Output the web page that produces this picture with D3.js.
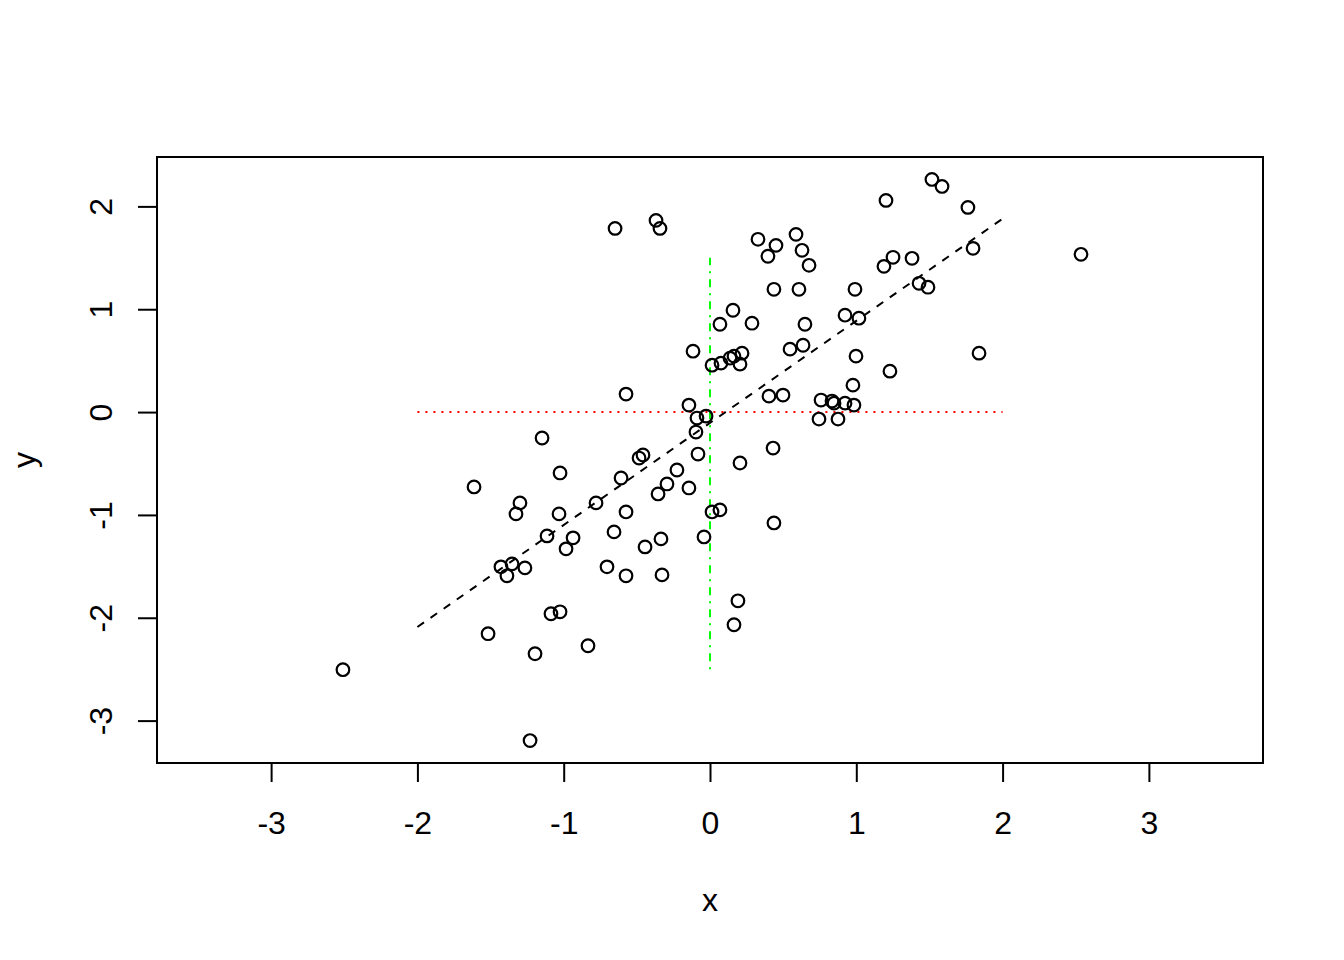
<!DOCTYPE html>
<html>
<head>
<meta charset="utf-8">
<script src="https://cdn.jsdelivr.net/npm/d3@7"></script>
<style>
  body { margin: 0; background: #fff; }
  text { font-family: "Liberation Sans", Arial, sans-serif; fill: #000; }
</style>
</head>
<body>
<svg id="chart" width="1344" height="960"></svg>
<script>

////////////////////////// DATA //////////////////////////

const xVals = [
  1.517, 1.586, 1.203, 1.763, -0.369, -0.649, -0.342, 0.588, 0.328, 0.451,
  0.629, 2.536, 1.798, 0.396, 1.251, 1.381, 0.677, 1.189, 1.429, 1.490,
  0.437, 0.608, 0.991, 0.157, 0.923, 1.018, 0.287, 0.068, 0.649, 0.636,
  0.547, -0.116, 0.219, 1.839, 0.998, 0.164, 0.137, 0.075, 0.205, 0.014,
  1.230, 0.977, -0.574, 0.499, 0.403, 0.759, 0.834, 0.848, 0.923, -0.144,
  0.984, -0.027, -0.089, 0.745, 0.875, -0.096, -1.148, 0.431, -0.082, -0.458,
  -0.485, 0.205, -0.226, -1.025, -0.608, -0.294, -1.613, -0.144, -0.355, -0.779,
  -1.299, 0.068, 0.014, -0.574, -1.032, -1.326, 0.437, -0.656, -1.114, -0.041,
  -0.936, -0.335, -0.444, -0.984, -1.353, -0.704, -1.429, -1.265, -0.328, -0.574,
  -1.388, 0.191, -1.025, -1.087, 0.164, -1.517, -0.834, -1.196, -2.509, -1.230
]

const yVals = [
  2.262, 2.194, 2.058, 1.990, 1.864, 1.786, 1.786, 1.728, 1.680, 1.621,
  1.573, 1.534, 1.592, 1.515, 1.505, 1.495, 1.427, 1.417, 1.252, 1.214,
  1.194, 1.194, 1.194, 0.990, 0.942, 0.913, 0.864, 0.854, 0.854, 0.650,
  0.612, 0.592, 0.573, 0.573, 0.544, 0.544, 0.524, 0.476, 0.466, 0.456,
  0.398, 0.262, 0.175, 0.165, 0.155, 0.117, 0.107, 0.087, 0.087, 0.068,
  0.068, -0.039, -0.058, -0.068, -0.068, -0.194, -0.252, -0.350, -0.408, -0.417,
  -0.447, -0.495, -0.563, -0.592, -0.641, -0.699, -0.728, -0.738, -0.796, -0.883,
  -0.883, -0.951, -0.971, -0.971, -0.990, -0.990, -1.078, -1.165, -1.204, -1.214,
  -1.223, -1.233, -1.311, -1.330, -1.476, -1.505, -1.505, -1.515, -1.583, -1.592,
  -1.592, -1.835, -1.942, -1.961, -2.068, -2.155, -2.272, -2.350, -2.505, -3.194
]

// reference lines
const hLineX = [-2, 2]      // horizontal line at y = 0
const hLineY = [0, 0]
const vLineX = [0, 0]       // vertical line at x = 0
const vLineY = [-2.5, 1.5]
const fitX = [-2, 2]        // fitted line
const fitY = [-2.09, 1.88]

const xLimits = [-3.5, 3.5]
const xTicks = [-3, -2, -1, 0, 1, 2, 3]
const yTicks = [-3, -2, -1, 0, 1, 2]

const xTitle = 'x'
const yTitle = 'y'

////////////////////////// SETUP //////////////////////////

const svg = d3.select('#chart')

const plotLeft = 157, plotRight = 1263, plotTop = 157, plotBottom = 763
const fontSize = 32
const tickLen = 19
const fontFamily = '"Liberation Sans", Arial, sans-serif'

// R style 4% padding on each side
const padRange = (ext) => {
  const p = (ext[1] - ext[0]) * 0.04
  return [ext[0] - p, ext[1] + p]
}

const xScale = d3.scaleLinear()
  .domain(padRange(xLimits))
  .range([plotLeft, plotRight])

const yScale = d3.scaleLinear()
  .domain(padRange(d3.extent(yVals)))
  .range([plotBottom, plotTop])

const points = xVals.map((x, i) => ({ x: x, y: yVals[i] }))

// plain hyphen minus, like R
const tickFmt = (d) => `${d}`

////////////////////////// AXES //////////////////////////

// x axis
const xAxis = d3.axisBottom(xScale)
  .tickValues(xTicks)
  .tickSize(tickLen)
  .tickPadding(0)
  .tickFormat(tickFmt)

const xAxisG = svg.append('g')
  .attr('transform', `translate(0,${plotBottom})`)
  .call(xAxis)

xAxisG.select('.domain')
  .attr('d', `M${xScale(xTicks[0])},0H${xScale(xTicks[xTicks.length - 1])}`)
  .attr('stroke', '#000').attr('stroke-width', 2)
xAxisG.selectAll('.tick line').attr('stroke', '#000').attr('stroke-width', 2)
xAxisG.selectAll('.tick text')
  .attr('font-size', fontSize)
  .attr('font-family', fontFamily)
  .attr('fill', '#000')
  .attr('dy', null)
  .attr('y', 834 - plotBottom)

// y axis
const yAxis = d3.axisLeft(yScale)
  .tickValues(yTicks)
  .tickSize(tickLen)
  .tickFormat(tickFmt)

const yAxisG = svg.append('g')
  .attr('transform', `translate(${plotLeft},0)`)
  .call(yAxis)

yAxisG.select('.domain')
  .attr('d', `M0,${yScale(yTicks[0])}V${yScale(yTicks[yTicks.length - 1])}`)
  .attr('stroke', '#000').attr('stroke-width', 2)
yAxisG.selectAll('.tick line').attr('stroke', '#000').attr('stroke-width', 2)
yAxisG.selectAll('.tick text')
  .attr('font-size', fontSize)
  .attr('font-family', fontFamily)
  .attr('fill', '#000')
  .attr('x', null)
  .attr('dy', null)
  .attr('text-anchor', 'middle')
  .attr('transform', `translate(${112 - plotLeft},0) rotate(-90)`)

// box around plot
svg.append('rect')
  .attr('x', plotLeft)
  .attr('y', plotTop)
  .attr('width', plotRight - plotLeft)
  .attr('height', plotBottom - plotTop)
  .attr('fill', 'none')
  .attr('stroke', '#000')
  .attr('stroke-width', 2)

// axis titles
svg.append('text')
  .attr('x', (plotLeft + plotRight) / 2)
  .attr('y', 911)
  .attr('text-anchor', 'middle')
  .attr('font-size', fontSize)
  .text(xTitle)

svg.append('text')
  .attr('transform', `translate(35,${(plotTop + plotBottom) / 2}) rotate(-90)`)
  .attr('text-anchor', 'middle')
  .attr('font-size', fontSize)
  .text(yTitle)

////////////////////////// MARKS //////////////////////////

const line = d3.line()
  .x((d) => xScale(d[0]))
  .y((d) => yScale(d[1]))

// fitted line (dashed)
svg.append('path')
  .attr('d', line(d3.zip(fitX, fitY)))
  .attr('fill', 'none')
  .attr('stroke', '#000')
  .attr('stroke-width', 2)
  .attr('stroke-dasharray', '8,8')

// horizontal red dotted
svg.append('path')
  .attr('d', line(d3.zip(hLineX, hLineY)))
  .attr('fill', 'none')
  .attr('stroke', '#ff0000')
  .attr('stroke-width', 2)
  .attr('stroke-dasharray', '2,6')

// vertical green dot-dash
svg.append('path')
  .attr('d', line(d3.zip(vLineX, vLineY)))
  .attr('fill', 'none')
  .attr('stroke', '#00ff00')
  .attr('stroke-width', 2)
  .attr('stroke-dasharray', '2,6,8,6')

// points
svg.selectAll('.pt')
  .data(points)
  .enter()
  .append('circle')
  .attr('class', 'pt')
  .attr('cx', (d) => xScale(d.x))
  .attr('cy', (d) => yScale(d.y))
  .attr('r', 6.3)
  .attr('fill', 'none')
  .attr('stroke', '#000')
  .attr('stroke-width', 2.2)

</script>
</body>
</html>
